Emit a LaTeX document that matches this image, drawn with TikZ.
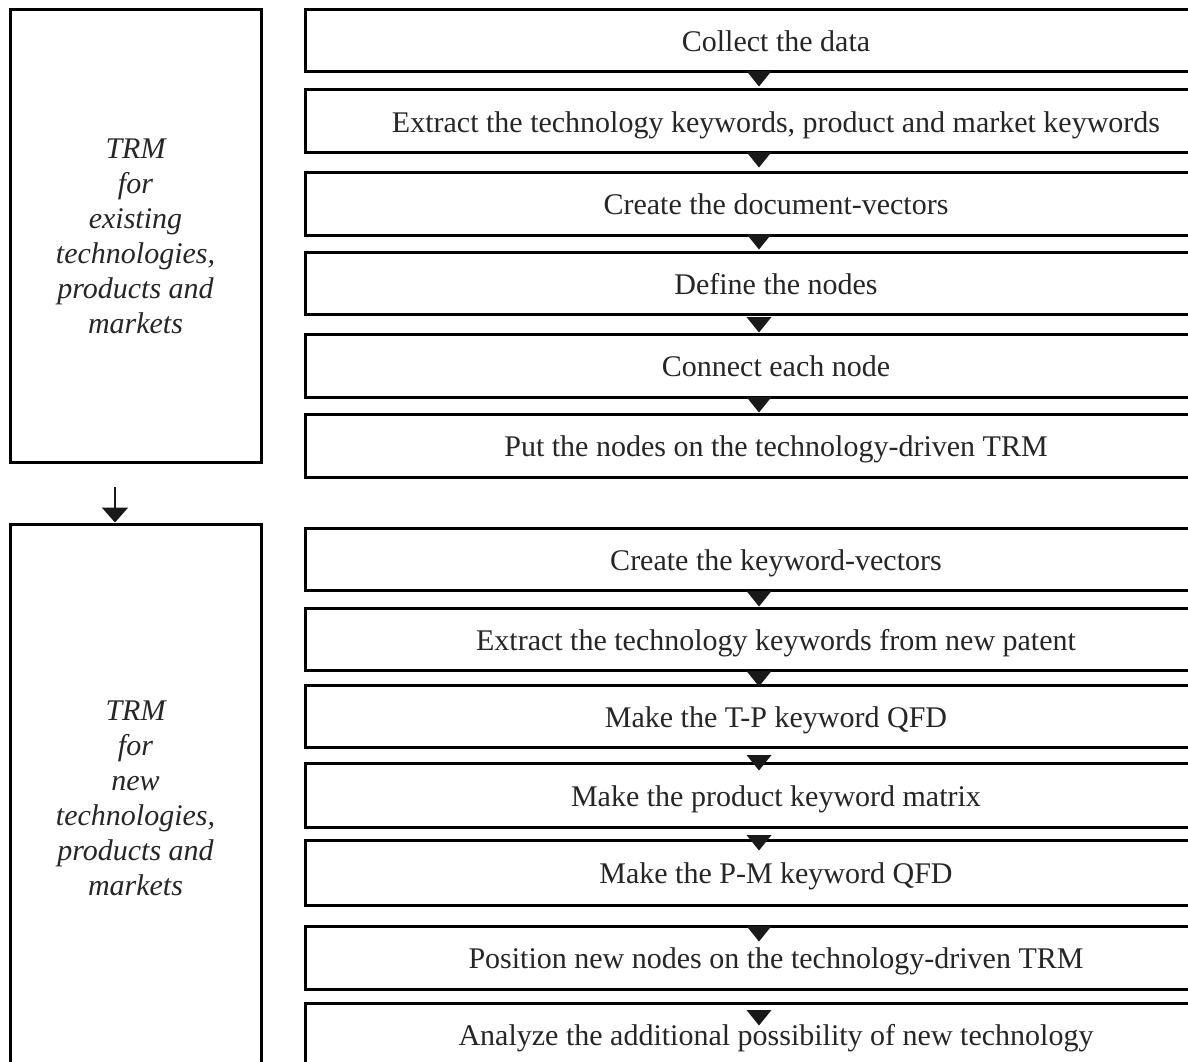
\documentclass[tikz,border=0pt]{standalone}
\usepackage{fontspec}
\setmainfont{Liberation Serif}
\usetikzlibrary{calc,arrows.meta}

\tikzset{
  stepbox/.style={draw=black, line width=3pt, fill=white,
    minimum width=942pt, inner sep=0pt,
    font=\fontsize{30}{35}\selectfont, text=black!85,
    text height=24pt, text depth=2pt},
  phasebox/.style={draw=black, line width=3pt, fill=white,
    minimum width=251pt, inner sep=0pt},
  phasetext/.style={align=center, text=black!85,
    font=\fontsize{30}{35}\selectfont\itshape},
  tipfill/.style={fill=black!90},
  phasearrow/.style={line width=2pt, draw=black!90,
    -{Triangle[width=26pt,length=15pt]}}
}

% downward pointer between two steps: #1 = lower step, #2 = tip offset below its top edge
\newcommand{\steptip}[2]{%
  \fill[tipfill] ($(#1.north)+(-17,#2)$) coordinate (tiptmp)
    -- ($(tiptmp)+(-12.5,-15.5)$) -- ($(tiptmp)+(12.5,-15.5)$) -- cycle;}

\begin{document}
\begin{tikzpicture}[x=1pt,y=-1pt]
  \useasboundingbox (0,0) rectangle (1188,1062);
  \clip (0,0) rectangle (1188,1062);

  % phase boxes on the left
  \node[phasebox, minimum height=452pt] (pA) at (135.5,236) {};
  \node[phasetext] at (pA) {TRM\\for\\existing\\technologies,\\products and\\markets};
  \node[phasebox, minimum height=548pt] (pB) at (135.5,798) {};
  \node[phasetext] at (pB) {TRM\\for\\new\\technologies,\\products and\\markets};
  \coordinate (pAout) at (115,487);
  \draw[phasearrow] (pAout) -- (pAout |- pB.north);

  % steps of the first phase
  \node[stepbox, minimum height=62pt] (b1) at (776,41) {Collect the data};
  \node[stepbox, minimum height=62pt] (b2) at (776,121) {Extract the technology keywords, product and market keywords};
  \node[stepbox, minimum height=63pt] (b3) at (776,203.5) {Create the document-vectors};
  \node[stepbox, minimum height=62pt] (b4) at (776,283) {Define the nodes};
  \node[stepbox, minimum height=63pt] (b5) at (776,365.5) {Connect each node};
  \node[stepbox, minimum height=63pt] (b6) at (776,445.5) {Put the nodes on the technology-driven TRM};

  % steps of the second phase
  \node[stepbox, minimum height=62pt] (b7) at (776,559) {Create the keyword-vectors};
  \node[stepbox, minimum height=62pt] (b8) at (776,639) {Extract the technology keywords from new patent};
  \node[stepbox, minimum height=62pt] (b9) at (776,716) {Make the T-P keyword QFD};
  \node[stepbox, minimum height=64pt] (b10) at (776,795) {Make the product keyword matrix};
  \node[stepbox, minimum height=65pt] (b11) at (776,872.5) {Make the P-M keyword QFD};
  \node[stepbox, minimum height=63pt] (b12) at (776,957.5) {Position new nodes on the technology-driven TRM};
  \node[stepbox, minimum height=63pt] (b13) at (776,1034.5) {Analyze the additional possibility of new technology};

  % pointers from one step to the next
  \steptip{b2}{-2}
  \steptip{b3}{-3}
  \steptip{b4}{-1}
  \steptip{b5}{0}
  \steptip{b6}{0}
  \steptip{b8}{0}
  \steptip{b9}{3}
  \steptip{b10}{9}
  \steptip{b11}{12}
  \steptip{b12}{17}
  \steptip{b13}{24}
\end{tikzpicture}
\end{document}
